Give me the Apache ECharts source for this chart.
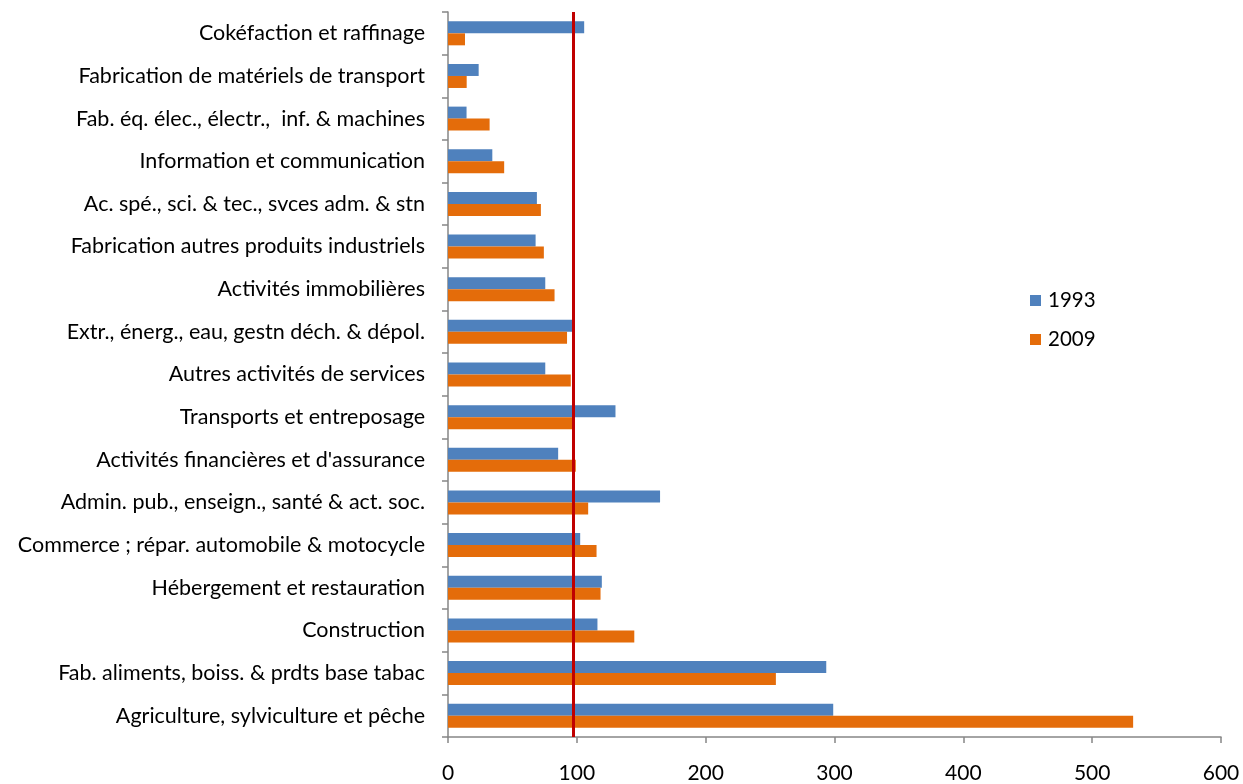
<!DOCTYPE html>
<html>
<head>
<meta charset="utf-8">
<script src="https://cdn.jsdelivr.net/npm/echarts@6/dist/echarts.min.js"></script>
<style>
html,body{margin:0;padding:0;background:#fff;}
#chart{width:1243px;height:784px;}
</style>
</head>
<body>
<div id="chart"></div>
<script>
var categories = [
  "Cokéfaction et raffinage",
  "Fabrication de matériels de transport",
  "Fab. éq. élec., électr.,  inf. & machines",
  "Information et communication",
  "Ac. spé., sci. & tec., svces adm. & stn",
  "Fabrication autres produits industriels",
  "Activités immobilières",
  "Extr., énerg., eau, gestn déch. & dépol.",
  "Autres activités de services",
  "Transports et entreposage",
  "Activités financières et d'assurance",
  "Admin. pub., enseign., santé & act. soc.",
  "Commerce ; répar. automobile & motocycle",
  "Hébergement et restauration",
  "Construction",
  "Fab. aliments, boiss. & prdts base tabac",
  "Agriculture, sylviculture et pêche"
];
var values1993 = [105.7, 23.8, 14.4, 34.4, 69.0, 68.0, 75.5, 96.3, 75.5, 130.0, 85.5, 164.6, 102.6, 119.4, 116.0, 293.6, 299.0];
var values2009 = [13.2, 14.5, 32.3, 43.6, 72.1, 74.4, 82.7, 92.4, 95.3, 96.3, 99.2, 108.8, 115.3, 118.4, 144.6, 254.5, 531.8];
var seriesNames = ["1993", "2009"];
var referenceValue = 97.1;
var xTicks = {min: 0, max: 600, interval: 100};

var FONT = "Lato";
var chart = echarts.init(document.getElementById('chart'));
chart.setOption({
  animation: false,
  backgroundColor: '#ffffff',
  textStyle: {fontFamily: FONT},
  grid: {left: 448, right: 22, top: 12, bottom: 46, containLabel: false},
  legend: {
    orient: 'vertical',
    left: 1025,
    top: 285,
    itemWidth: 11,
    itemHeight: 11,
    itemGap: 18,
    icon: 'rect',
    textStyle: {fontSize: 20.5, color: '#000', fontFamily: FONT, padding: [0,0,0,2]},
    data: seriesNames
  },
  xAxis: {
    type: 'value',
    min: xTicks.min, max: xTicks.max, interval: xTicks.interval,
    splitLine: {show: false},
    axisLine: {show: true, lineStyle: {color: '#868686', width: 1.5}},
    axisTick: {show: true, length: 6, lineStyle: {color: '#868686', width: 1.5}},
    axisLabel: {fontSize: 21, color: '#000', margin: 26, fontFamily: FONT}
  },
  yAxis: {
    type: 'category',
    inverse: true,
    data: categories,
    axisLine: {show: true, lineStyle: {color: '#868686', width: 1.5}},
    axisTick: {show: true, length: 6, alignWithLabel: false, lineStyle: {color: '#868686', width: 1.5}},
    axisLabel: {fontSize: 21.5, color: '#000', margin: 23, fontFamily: FONT, padding: [3, 0, 0, 0]}
  },
  series: [
    {
      name: seriesNames[0], type: 'bar', data: values1993,
      barWidth: 12, barGap: '0%',
      itemStyle: {color: '#4F81BD'}
    },
    {
      name: seriesNames[1], type: 'bar', data: values2009,
      barWidth: 12, barGap: '0%',
      itemStyle: {color: '#E46C0A'},
      markLine: {
        silent: true,
        symbol: ['none', 'none'],
        label: {show: false},
        lineStyle: {color: '#C00000', width: 3, type: 'solid'},
        data: [{xAxis: referenceValue}]
      }
    }
  ]
});
</script>
</body>
</html>
